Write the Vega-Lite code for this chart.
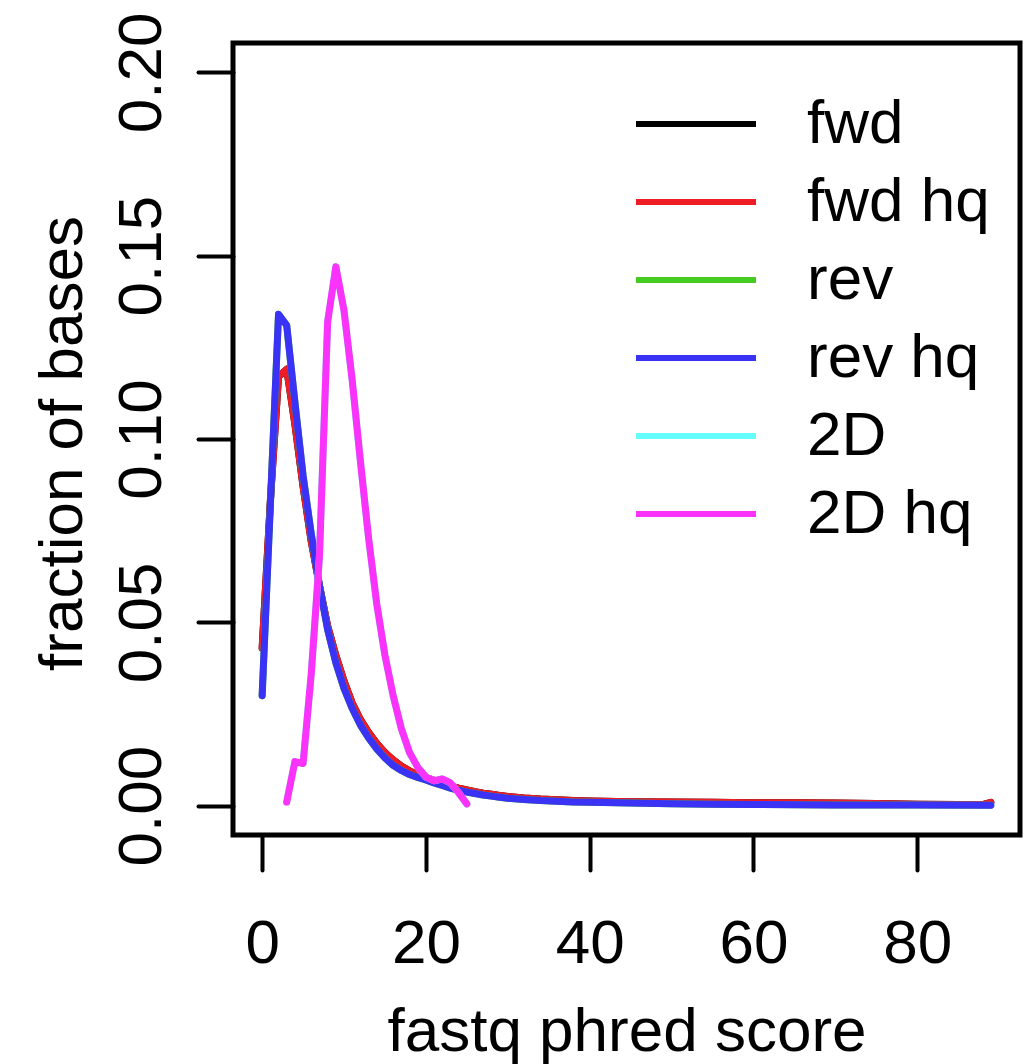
{
  "$schema": "https://vega.github.io/schema/vega-lite/v6.json",
  "width": 787,
  "height": 792,
  "autosize": {"type": "none"},
  "padding": {"left": 233, "top": 43, "right": 4, "bottom": 229},
  "background": "white",
  "config": {
    "view": {"stroke": "black", "strokeWidth": 5},
    "font": "Liberation Sans"
  },
  "datasets": {
    "d": [
      {"s":"fwd","x":0,"y":0.043},{"s":"fwd","x":1,"y":0.083},{"s":"fwd","x":2,"y":0.117},{"s":"fwd","x":3,"y":0.119},{"s":"fwd","x":4,"y":0.104},{"s":"fwd","x":5,"y":0.087},{"s":"fwd","x":6,"y":0.072},{"s":"fwd","x":7,"y":0.060},{"s":"fwd","x":8,"y":0.049},{"s":"fwd","x":9,"y":0.041},{"s":"fwd","x":10,"y":0.034},{"s":"fwd","x":11,"y":0.028},{"s":"fwd","x":12,"y":0.0235},{"s":"fwd","x":13,"y":0.020},{"s":"fwd","x":14,"y":0.017},{"s":"fwd","x":15,"y":0.0145},{"s":"fwd","x":16,"y":0.0125},{"s":"fwd","x":17,"y":0.0108},{"s":"fwd","x":18,"y":0.0095},{"s":"fwd","x":19,"y":0.0085},{"s":"fwd","x":20,"y":0.0077},{"s":"fwd","x":21,"y":0.0069},{"s":"fwd","x":22,"y":0.0061},{"s":"fwd","x":23,"y":0.0054},{"s":"fwd","x":24,"y":0.0048},{"s":"fwd","x":25,"y":0.0043},{"s":"fwd","x":26,"y":0.0038},{"s":"fwd","x":27,"y":0.0034},{"s":"fwd","x":28,"y":0.0031},{"s":"fwd","x":29,"y":0.0028},{"s":"fwd","x":30,"y":0.0025},{"s":"fwd","x":32,"y":0.0021},{"s":"fwd","x":34,"y":0.0018},{"s":"fwd","x":36,"y":0.0016},{"s":"fwd","x":38,"y":0.0014},{"s":"fwd","x":40,"y":0.0013},{"s":"fwd","x":45,"y":0.0011},{"s":"fwd","x":50,"y":0.0010},{"s":"fwd","x":55,"y":0.0009},{"s":"fwd","x":60,"y":0.0008},{"s":"fwd","x":65,"y":0.0008},{"s":"fwd","x":70,"y":0.0007},{"s":"fwd","x":75,"y":0.0006},{"s":"fwd","x":80,"y":0.0004},{"s":"fwd","x":85,"y":0.0003},{"s":"fwd","x":88,"y":0.0003},{"s":"fwd","x":89,"y":0.0009},
      {"s":"fwd hq","x":0,"y":0.043},{"s":"fwd hq","x":1,"y":0.083},{"s":"fwd hq","x":2,"y":0.117},{"s":"fwd hq","x":3,"y":0.119},{"s":"fwd hq","x":4,"y":0.104},{"s":"fwd hq","x":5,"y":0.087},{"s":"fwd hq","x":6,"y":0.072},{"s":"fwd hq","x":7,"y":0.060},{"s":"fwd hq","x":8,"y":0.049},{"s":"fwd hq","x":9,"y":0.041},{"s":"fwd hq","x":10,"y":0.034},{"s":"fwd hq","x":11,"y":0.028},{"s":"fwd hq","x":12,"y":0.0235},{"s":"fwd hq","x":13,"y":0.020},{"s":"fwd hq","x":14,"y":0.017},{"s":"fwd hq","x":15,"y":0.0145},{"s":"fwd hq","x":16,"y":0.0125},{"s":"fwd hq","x":17,"y":0.0108},{"s":"fwd hq","x":18,"y":0.0095},{"s":"fwd hq","x":19,"y":0.0085},{"s":"fwd hq","x":20,"y":0.0077},{"s":"fwd hq","x":21,"y":0.0069},{"s":"fwd hq","x":22,"y":0.0061},{"s":"fwd hq","x":23,"y":0.0054},{"s":"fwd hq","x":24,"y":0.0048},{"s":"fwd hq","x":25,"y":0.0043},{"s":"fwd hq","x":26,"y":0.0038},{"s":"fwd hq","x":27,"y":0.0034},{"s":"fwd hq","x":28,"y":0.0031},{"s":"fwd hq","x":29,"y":0.0028},{"s":"fwd hq","x":30,"y":0.0025},{"s":"fwd hq","x":32,"y":0.0021},{"s":"fwd hq","x":34,"y":0.0018},{"s":"fwd hq","x":36,"y":0.0016},{"s":"fwd hq","x":38,"y":0.0014},{"s":"fwd hq","x":40,"y":0.0013},{"s":"fwd hq","x":45,"y":0.0011},{"s":"fwd hq","x":50,"y":0.0010},{"s":"fwd hq","x":55,"y":0.0009},{"s":"fwd hq","x":60,"y":0.0008},{"s":"fwd hq","x":65,"y":0.0008},{"s":"fwd hq","x":70,"y":0.0007},{"s":"fwd hq","x":75,"y":0.0006},{"s":"fwd hq","x":80,"y":0.0004},{"s":"fwd hq","x":85,"y":0.0003},{"s":"fwd hq","x":88,"y":0.0003},{"s":"fwd hq","x":89,"y":0.0009},
      {"s":"rev","x":0,"y":0.030},{"s":"rev","x":1,"y":0.082},{"s":"rev","x":2,"y":0.134},{"s":"rev","x":3,"y":0.131},{"s":"rev","x":4,"y":0.110},{"s":"rev","x":5,"y":0.090},{"s":"rev","x":6,"y":0.074},{"s":"rev","x":7,"y":0.060},{"s":"rev","x":8,"y":0.048},{"s":"rev","x":9,"y":0.039},{"s":"rev","x":10,"y":0.032},{"s":"rev","x":11,"y":0.0265},{"s":"rev","x":12,"y":0.022},{"s":"rev","x":13,"y":0.0185},{"s":"rev","x":14,"y":0.0155},{"s":"rev","x":15,"y":0.013},{"s":"rev","x":16,"y":0.011},{"s":"rev","x":17,"y":0.0096},{"s":"rev","x":18,"y":0.0085},{"s":"rev","x":19,"y":0.0077},{"s":"rev","x":20,"y":0.0070},{"s":"rev","x":21,"y":0.0062},{"s":"rev","x":22,"y":0.0055},{"s":"rev","x":23,"y":0.0048},{"s":"rev","x":24,"y":0.0042},{"s":"rev","x":25,"y":0.0037},{"s":"rev","x":26,"y":0.0033},{"s":"rev","x":27,"y":0.0029},{"s":"rev","x":28,"y":0.0026},{"s":"rev","x":29,"y":0.0023},{"s":"rev","x":30,"y":0.0020},{"s":"rev","x":32,"y":0.0017},{"s":"rev","x":34,"y":0.0014},{"s":"rev","x":36,"y":0.0012},{"s":"rev","x":38,"y":0.0010},{"s":"rev","x":40,"y":0.0009},{"s":"rev","x":45,"y":0.0007},{"s":"rev","x":50,"y":0.0005},{"s":"rev","x":55,"y":0.0004},{"s":"rev","x":60,"y":0.0003},{"s":"rev","x":70,"y":0.0002},{"s":"rev","x":80,"y":0.00015},{"s":"rev","x":89,"y":0.0001},
      {"s":"rev hq","x":0,"y":0.030},{"s":"rev hq","x":1,"y":0.082},{"s":"rev hq","x":2,"y":0.134},{"s":"rev hq","x":3,"y":0.131},{"s":"rev hq","x":4,"y":0.110},{"s":"rev hq","x":5,"y":0.090},{"s":"rev hq","x":6,"y":0.074},{"s":"rev hq","x":7,"y":0.060},{"s":"rev hq","x":8,"y":0.048},{"s":"rev hq","x":9,"y":0.039},{"s":"rev hq","x":10,"y":0.032},{"s":"rev hq","x":11,"y":0.0265},{"s":"rev hq","x":12,"y":0.022},{"s":"rev hq","x":13,"y":0.0185},{"s":"rev hq","x":14,"y":0.0155},{"s":"rev hq","x":15,"y":0.013},{"s":"rev hq","x":16,"y":0.011},{"s":"rev hq","x":17,"y":0.0096},{"s":"rev hq","x":18,"y":0.0085},{"s":"rev hq","x":19,"y":0.0077},{"s":"rev hq","x":20,"y":0.0070},{"s":"rev hq","x":21,"y":0.0062},{"s":"rev hq","x":22,"y":0.0055},{"s":"rev hq","x":23,"y":0.0048},{"s":"rev hq","x":24,"y":0.0042},{"s":"rev hq","x":25,"y":0.0037},{"s":"rev hq","x":26,"y":0.0033},{"s":"rev hq","x":27,"y":0.0029},{"s":"rev hq","x":28,"y":0.0026},{"s":"rev hq","x":29,"y":0.0023},{"s":"rev hq","x":30,"y":0.0020},{"s":"rev hq","x":32,"y":0.0017},{"s":"rev hq","x":34,"y":0.0014},{"s":"rev hq","x":36,"y":0.0012},{"s":"rev hq","x":38,"y":0.0010},{"s":"rev hq","x":40,"y":0.0009},{"s":"rev hq","x":45,"y":0.0007},{"s":"rev hq","x":50,"y":0.0005},{"s":"rev hq","x":55,"y":0.0004},{"s":"rev hq","x":60,"y":0.0003},{"s":"rev hq","x":70,"y":0.0002},{"s":"rev hq","x":80,"y":0.00015},{"s":"rev hq","x":89,"y":0.0001},
      {"s":"2D","x":3,"y":0.001},{"s":"2D","x":4,"y":0.012},{"s":"2D","x":5,"y":0.0115},{"s":"2D","x":6,"y":0.036},{"s":"2D","x":7,"y":0.068},{"s":"2D","x":8,"y":0.132},{"s":"2D","x":9,"y":0.147},{"s":"2D","x":10,"y":0.135},{"s":"2D","x":11,"y":0.116},{"s":"2D","x":12,"y":0.094},{"s":"2D","x":13,"y":0.073},{"s":"2D","x":14,"y":0.055},{"s":"2D","x":15,"y":0.041},{"s":"2D","x":16,"y":0.030},{"s":"2D","x":17,"y":0.021},{"s":"2D","x":18,"y":0.0145},{"s":"2D","x":19,"y":0.0105},{"s":"2D","x":20,"y":0.0078},{"s":"2D","x":21,"y":0.0068},{"s":"2D","x":22,"y":0.0073},{"s":"2D","x":23,"y":0.0062},{"s":"2D","x":24,"y":0.0035},{"s":"2D","x":25,"y":0.0005},
      {"s":"2D hq","x":3,"y":0.001},{"s":"2D hq","x":4,"y":0.012},{"s":"2D hq","x":5,"y":0.0115},{"s":"2D hq","x":6,"y":0.036},{"s":"2D hq","x":7,"y":0.068},{"s":"2D hq","x":8,"y":0.132},{"s":"2D hq","x":9,"y":0.147},{"s":"2D hq","x":10,"y":0.135},{"s":"2D hq","x":11,"y":0.116},{"s":"2D hq","x":12,"y":0.094},{"s":"2D hq","x":13,"y":0.073},{"s":"2D hq","x":14,"y":0.055},{"s":"2D hq","x":15,"y":0.041},{"s":"2D hq","x":16,"y":0.030},{"s":"2D hq","x":17,"y":0.021},{"s":"2D hq","x":18,"y":0.0145},{"s":"2D hq","x":19,"y":0.0105},{"s":"2D hq","x":20,"y":0.0078},{"s":"2D hq","x":21,"y":0.0068},{"s":"2D hq","x":22,"y":0.0073},{"s":"2D hq","x":23,"y":0.0062},{"s":"2D hq","x":24,"y":0.0035},{"s":"2D hq","x":25,"y":0.0005}
    ]
  },
  "data": {"name": "d"},
  "mark": {"type": "line", "strokeWidth": 7, "strokeCap": "round", "strokeJoin": "round"},
  "encoding": {
    "x": {
      "field": "x", "type": "quantitative",
      "scale": {"domain": [-3.56, 92.56], "nice": false, "zero": false},
      "axis": {
        "values": [0, 20, 40, 60, 80], "domain": false, "grid": false,
        "tickSize": 35, "tickWidth": 4, "tickColor": "black", "tickCap": "round",
        "labelFontSize": 62, "labelColor": "black", "labelPadding": 43, "labelFlush": false, "labelOverlap": false,
        "title": "fastq phred score", "titleFontSize": 62, "titleFontWeight": "normal", "titleColor": "black",
        "titleBaseline": "alphabetic", "titleY": 215
      }
    },
    "y": {
      "field": "y", "type": "quantitative",
      "scale": {"domain": [-0.008, 0.208], "nice": false, "zero": false},
      "axis": {
        "values": [0, 0.05, 0.1, 0.15, 0.2], "format": ".2f", "domain": false, "grid": false,
        "tickSize": 35, "tickWidth": 4, "tickColor": "black", "tickCap": "round",
        "labelFontSize": 62, "labelColor": "black", "labelPadding": 38, "labelAngle": 270,
        "labelAlign": "center", "labelBaseline": "alphabetic", "labelFlush": false, "labelOverlap": false,
        "title": "fraction of bases", "titleFontSize": 62, "titleFontWeight": "normal", "titleColor": "black",
        "titleAngle": 270, "titleBaseline": "alphabetic", "titleAlign": "center", "titleX": -152, "titleY": 400
      }
    },
    "color": {
      "field": "s", "type": "nominal",
      "scale": {
        "domain": ["fwd", "fwd hq", "rev", "rev hq", "2D", "2D hq"],
        "range": ["#000000", "#ee1c24", "#44cc22", "#3a32f5", "#66ffff", "#fa32fa"]
      },
      "legend": {
        "orient": "none", "legendX": 430, "legendY": 48, "padding": 0,
        "title": null, "symbolType": "M-2,0H2", "symbolSize": 3600, "symbolStrokeWidth": 6,
        "labelFontSize": 62, "labelColor": "black", "labelOffset": 78, "rowPadding": 14,
        "labelLimit": 400
      }
    }
  }
}
